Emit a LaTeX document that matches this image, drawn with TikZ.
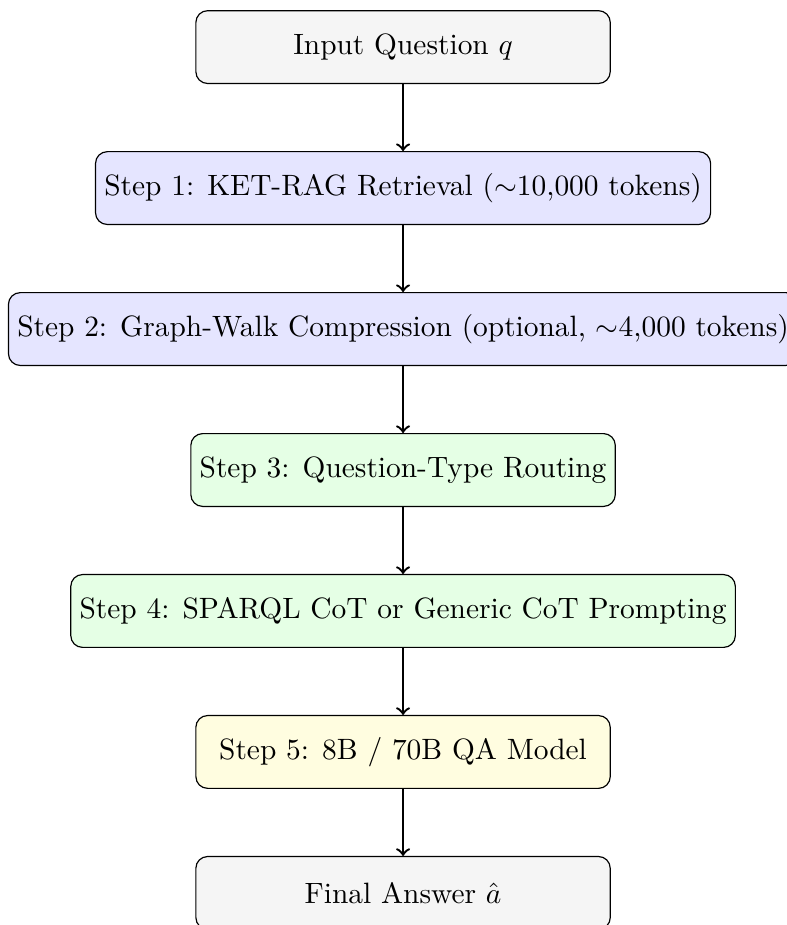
\documentclass[tikz,border=0pt]{standalone}
\usepackage{amsmath}
\usepackage{tikz}
\usepackage{xcolor}
\usetikzlibrary{positioning}

\begin{document}
\begin{tikzpicture}[
        node distance=0.8cm,
        stage/.style={rectangle, draw, rounded corners=4pt, minimum width=4.95cm, minimum height=0.87cm, inner xsep=3pt, align=center},
        iobox/.style={stage, fill=gray!8},
        retrieve/.style={stage, fill=blue!10},
        reason/.style={stage, fill=green!10},
        answerer/.style={stage, fill=yellow!12},
        arrow/.style={->, thick}
    ]

    % --- Page frame (cuts the last box off at the bottom) ---
    \useasboundingbox (-137pt,16pt) rectangle (130.2pt,-298.4pt);

    % --- Pipeline ---
    \node[iobox] (input) at (0,0) {Input Question $q$};
    \node[retrieve, below=of input] (retrieval) {Step 1: KET-RAG Retrieval ($\sim$10,000 tokens)};
    \node[retrieve, below=of retrieval] (compress) {Step 2: Graph-Walk Compression (optional, $\sim$4,000 tokens)};
    \node[reason, below=of compress] (routing) {Step 3: Question-Type Routing};
    \node[reason, below=of routing] (prompting) {Step 4: SPARQL CoT or Generic CoT Prompting};
    \node[answerer, below=of prompting] (qamodel) {Step 5: 8B / 70B QA Model};
    \node[iobox, below=of qamodel] (answer) {Final Answer $\hat{a}$};

    % --- Connections ---
    \draw[arrow] (input) -- (retrieval);
    \draw[arrow] (retrieval) -- (compress);
    \draw[arrow] (compress) -- (routing);
    \draw[arrow] (routing) -- (prompting);
    \draw[arrow] (prompting) -- (qamodel);
    \draw[arrow] (qamodel) -- (answer);

\end{tikzpicture}
\end{document}
